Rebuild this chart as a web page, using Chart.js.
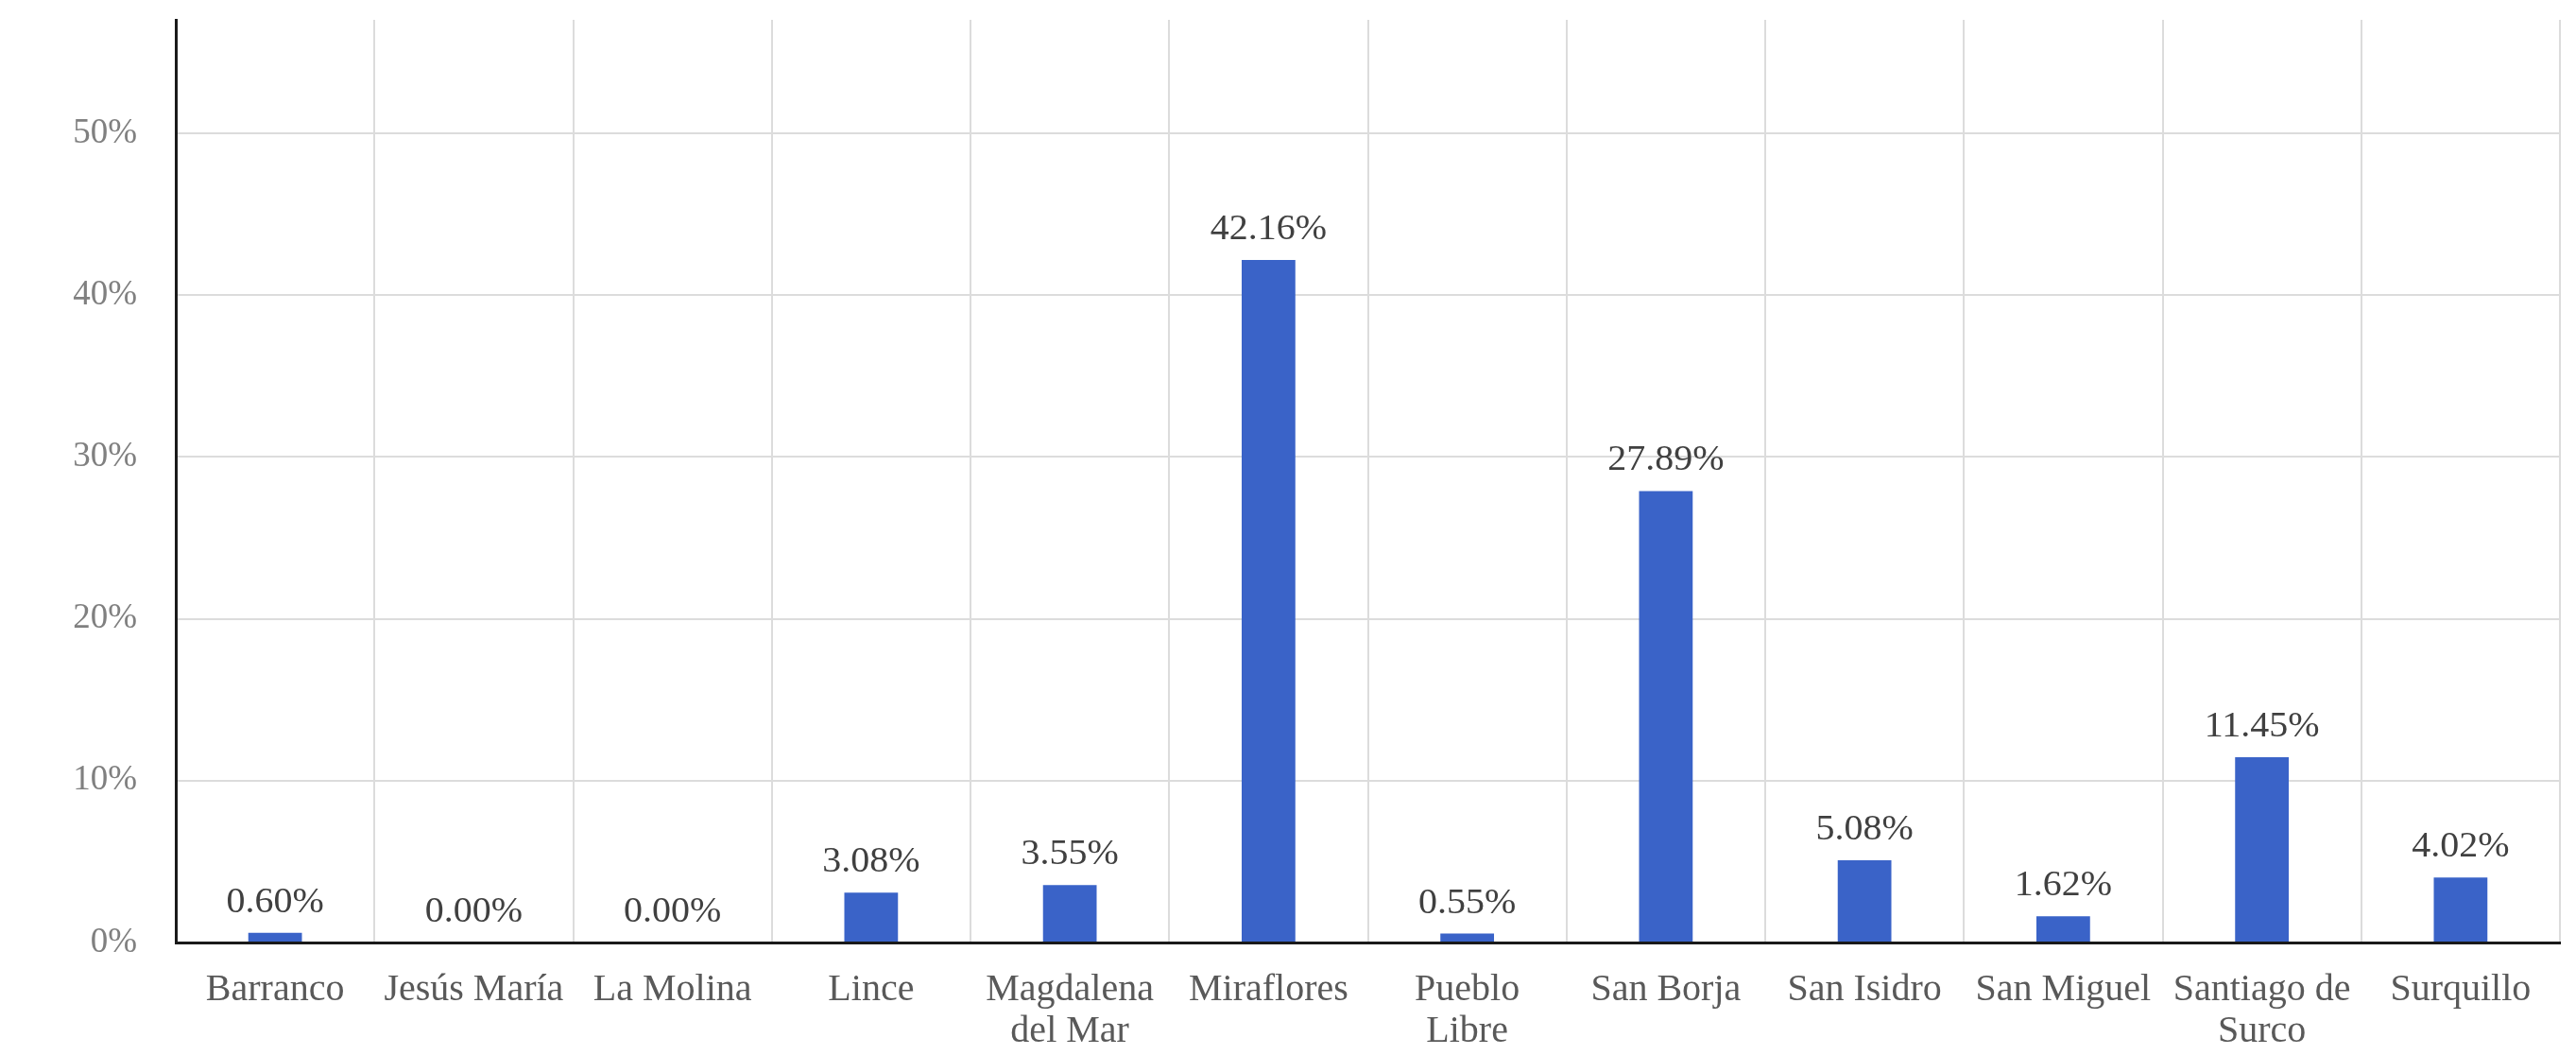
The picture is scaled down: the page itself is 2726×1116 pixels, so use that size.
<!DOCTYPE html>
<html>
<head>
<meta charset="utf-8">
<script src="https://cdn.jsdelivr.net/npm/chart.js@4.4.1/dist/chart.umd.min.js"></script>
<style>
  html, body { margin: 0; padding: 0; background: #ffffff; }
  #grafico { display: block; }
</style>
</head>
<body>
<canvas id="grafico" width="2726" height="1116"></canvas>
<script>
// distritos y porcentajes
const distritos = [
  "Barranco", "Jesús María", "La Molina", "Lince", ["Magdalena", "del Mar"],
  "Miraflores", ["Pueblo", "Libre"], "San Borja", "San Isidro", "San Miguel",
  ["Santiago de", "Surco"], "Surquillo"
];
const porcentajes = [0.60, 0.00, 0.00, 3.08, 3.55, 42.16, 0.55, 27.89, 5.08, 1.62, 11.45, 4.02];
const ticksY = [0, 10, 20, 30, 40, 50];

const fuente = "'Liberation Serif', 'DejaVu Serif', serif";

// etiquetas encima de cada barra
const etiquetasBarras = {
  id: "etiquetasBarras",
  afterDatasetsDraw(chart) {
    const ctx = chart.ctx;
    const meta = chart.getDatasetMeta(0);
    ctx.save();
    ctx.font = "37px " + fuente;
    ctx.fillStyle = "#404040";
    ctx.textAlign = "center";
    ctx.textBaseline = "alphabetic";
    meta.data.forEach((bar, i) => {
      ctx.save();
      ctx.translate(bar.x, bar.y - 22);
      ctx.scale(1.08, 1);
      ctx.fillText(porcentajes[i].toFixed(2) + "%", 0, 0);
      ctx.restore();
    });
    ctx.restore();
  }
};

const ctx = document.getElementById("grafico").getContext("2d");
new Chart(ctx, {
  type: "bar",
  data: {
    labels: distritos,
    datasets: [{
      data: porcentajes,
      backgroundColor: "#3a63c8",
      borderWidth: 0,
      barPercentage: 0.27,
      categoryPercentage: 1
    }]
  },
  options: {
    responsive: false,
    animation: false,
    devicePixelRatio: 1,
    layout: { padding: { top: 21, right: 17, left: 0, bottom: 0 } },
    plugins: {
      legend: { display: false },
      tooltip: { enabled: false }
    },
    scales: {
      x: {
        grid: { color: "#dcdcdc", lineWidth: 2, drawTicks: false },
        border: { color: "#1a1a1a", width: 3 },
        ticks: {
          color: "#595959",
          font: { family: fuente, size: 40, lineHeight: 1.1 },
          padding: 28,
          maxRotation: 0,
          autoSkip: false
        },
        afterFit: (scale) => { scale.height = 119; }
      },
      y: {
        min: 0,
        max: 57,
        grid: { color: "#dcdcdc", lineWidth: 2, drawTicks: false },
        border: { color: "#1a1a1a", width: 3 },
        afterBuildTicks: (axis) => { axis.ticks = ticksY.map(v => ({ value: v })); },
        ticks: {
          color: "#808080",
          font: { family: fuente, size: 37 },
          padding: 41,
          callback: (v) => v + "%"
        },
        afterFit: (scale) => {
          scale.width = 186;
          // sin relleno extra arriba/abajo por las etiquetas
          scale.paddingTop = 0;
          scale.paddingBottom = 0;
        }
      }
    }
  },
  plugins: [etiquetasBarras]
});
</script>
</body>
</html>
